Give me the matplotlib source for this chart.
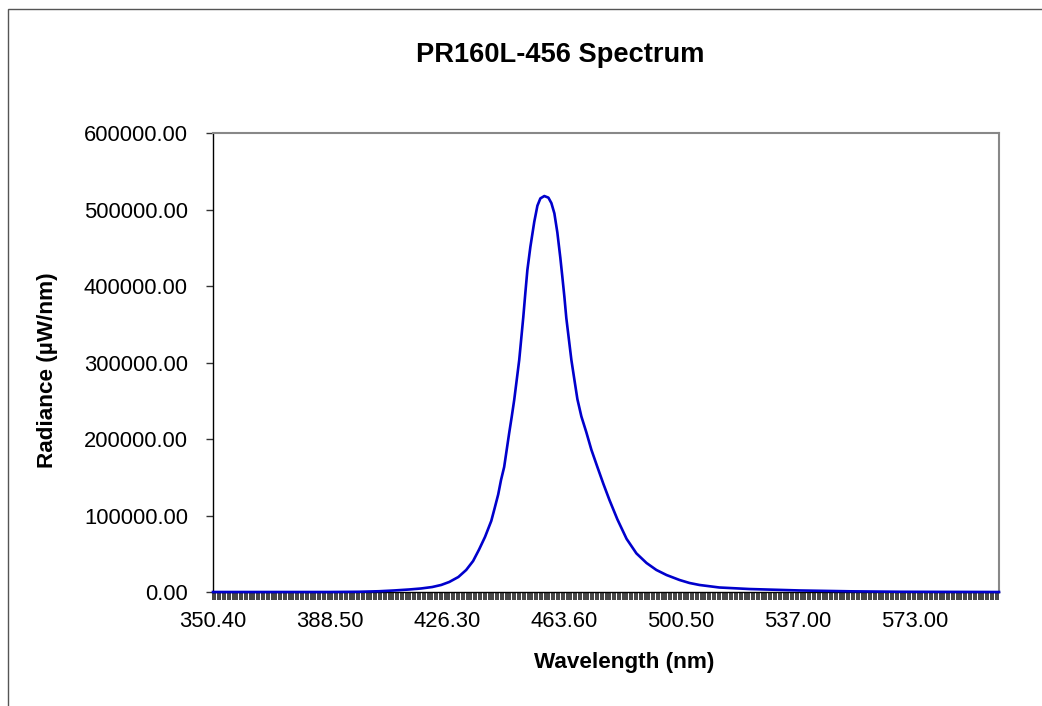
# -*-coding:utf-8 -*
"""Spectre PR160L-456, style Excel (axe de catégories)."""

import numpy as np
import matplotlib
matplotlib.use("Agg")
import matplotlib.pyplot as plt
from matplotlib.patches import Rectangle
from matplotlib.ticker import FixedLocator, FormatStrFormatter

plt.rcParams['font.family'] = ['Liberation Sans', 'DejaVu Sans']

# Étiquettes de l'axe des catégories (espacées régulièrement à l'écran)
label_wl = [350.40, 388.50, 426.30, 463.60, 500.50, 537.00, 573.00]
end_wl = 598.5

# Spectre
wavelength = [350.4, 388.2, 397.9, 404.4, 409.2, 414.1, 417.9, 421.5, 424.4,
              427.0, 429.9, 432.4, 434.6, 436.5, 438.4, 440.4, 441.4, 442.6,
              443.5, 444.5, 445.3, 446.1, 446.9, 447.7, 448.5, 449.3, 450.6,
              451.25, 451.9, 452.85, 454.1, 455.1, 456.04, 457.3, 458.6, 459.55,
              460.5, 461.45, 462.4, 463.05, 463.7, 464.3, 465.1, 465.9, 466.85,
              467.8, 469.05, 470.6, 472.2, 474.1, 476.0, 477.9, 480.4, 483.3,
              486.4, 489.6, 492.7, 495.9, 500.0, 503.1, 506.2, 512.4, 521.8,
              537.5, 553.0, 568.5, 598.5]
radiance = [0, 0, 300, 1000, 2000, 3300, 4600, 6500, 9200,
            13100, 19600, 28800, 40500, 55500, 72000, 93000, 108500, 127500,
            146400, 163400, 185600, 207800, 228800, 251000, 277100, 303300, 359500,
            390900, 420900, 451000, 484000, 505000, 514500, 517600, 515500, 508400,
            495000, 470000, 437000, 411800, 385600, 358200, 330700, 303300, 277500,
            252000, 229500, 209000, 186000, 163400, 141200, 120300, 95000, 69500,
            50500, 37900, 28800, 22200, 15700, 11800, 9200, 5900, 3900,
            2000, 900, 300, 0]

# Échelle non linéaire : chaque intervalle entre étiquettes a la même largeur
scale_wl = np.array(label_wl + [label_wl[-1] + 35.6, 700.0])
scale_pos = np.arange(len(scale_wl), dtype=float)
scale_pos[-1] = scale_pos[-2] + (700.0 - scale_wl[-2]) / 35.6

def forward(w):
    return np.interp(w, scale_wl, scale_pos)

def inverse(p):
    return np.interp(p, scale_pos, scale_wl)

fig = plt.figure(figsize=(10.42, 7.06), dpi=100)
fig.patches.append(Rectangle((8 / 1042, -0.1), 1.2, 0.9873 + 0.1,
                             transform=fig.transFigure, fill=False,
                             edgecolor='#555555', linewidth=1.0))
ax = fig.add_axes([213 / 1042, 1 - 592 / 706, 786 / 1042, 459 / 706])

ax.set_xscale('function', functions=(forward, inverse))
ax.plot(wavelength, radiance, color='#0000cc', linewidth=1.9,
        zorder=3, clip_on=False, solid_joinstyle='round')

ax.set_xlim(label_wl[0], end_wl)
ax.set_ylim(0, 600000)

# Graduations
ax.set_yticks(np.arange(0, 600001, 100000))
ax.yaxis.set_major_formatter(FormatStrFormatter('%.2f'))
ax.set_xticks(label_wl)
ax.set_xticklabels(['%.2f' % w for w in label_wl])
minor = []
for a, b in zip(scale_wl[:-1], scale_wl[1:]):
    minor.extend(np.linspace(a, b, 49)[:-1])
ax.xaxis.set_minor_locator(FixedLocator([m for m in minor if m <= end_wl]))

ax.tick_params(axis='y', direction='out', length=5, width=1, color='#333333',
               labelsize=15.8, pad=13)
ax.tick_params(axis='x', which='both', direction='out', length=5.5, width=1.2,
               color='#222222', labelsize=15.8, pad=8.5)

for side in ('top', 'right'):
    ax.spines[side].set_color('#888888')
    ax.spines[side].set_linewidth(1.5)
for side in ('left', 'bottom'):
    ax.spines[side].set_color('black')
    ax.spines[side].set_linewidth(1.0)

fig.text(0.538, 0.922, 'PR160L-456 Spectrum', fontsize=19.6,
         fontweight='bold', ha='center', va='center')
fig.text(0.599, 0.0623, 'Wavelength (nm)', fontsize=16.2,
         fontweight='bold', ha='center', va='center')
fig.text(0.046, 0.476, 'Radiance (µW/nm)', fontsize=16.2,
         fontweight='bold', ha='center', va='center', rotation=90)

fig.savefig('out.png', dpi=100)
